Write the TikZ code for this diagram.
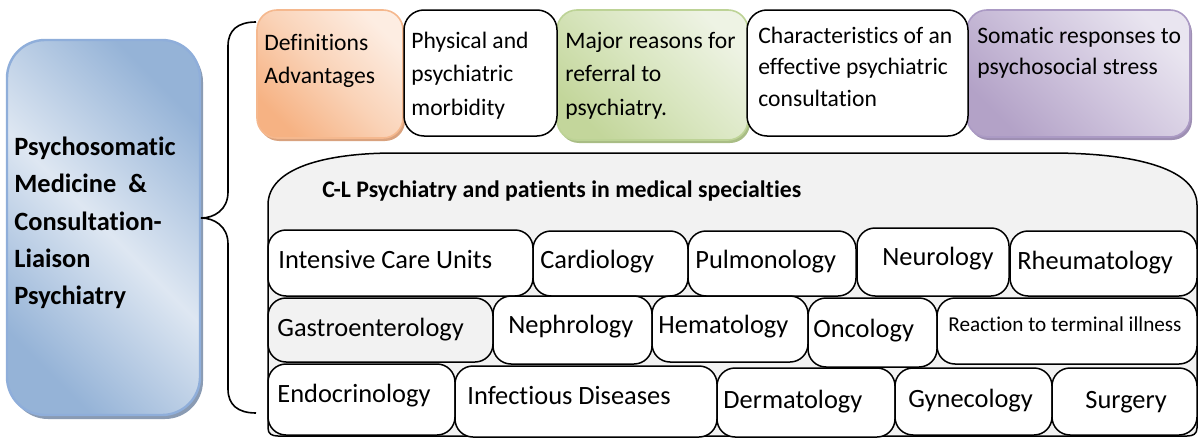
\documentclass[tikz,border=0pt]{standalone}
\usepackage{fontspec}
\setmainfont{Carlito}[Ligatures=NoCommon]
\usetikzlibrary{fit,shadows}
\definecolor{blueD}{HTML}{95B3D7}
\definecolor{blueL}{HTML}{DEE7F2}
\definecolor{blueB}{HTML}{8FAEDA}
\definecolor{blueS}{HTML}{8A9BB3}
\definecolor{orD}{HTML}{F6B283}
\definecolor{orM}{HTML}{FAD3B8}
\definecolor{orL}{HTML}{FDEDE2}
\definecolor{orB}{HTML}{F5B88E}
\definecolor{orS}{HTML}{D9A27E}
\definecolor{grD}{HTML}{C3D69B}
\definecolor{grM}{HTML}{D9E6C0}
\definecolor{grL}{HTML}{EEF3E4}
\definecolor{grB}{HTML}{BDD396}
\definecolor{grS}{HTML}{A9BD85}
\definecolor{puD}{HTML}{B3A2C7}
\definecolor{puM}{HTML}{CFC4DD}
\definecolor{puL}{HTML}{E9E5F0}
\definecolor{puB}{HTML}{AB9AC4}
\definecolor{puS}{HTML}{9E8FB3}
\definecolor{contfill}{HTML}{F2F2F2}
\begin{document}
\begin{tikzpicture}[x=0.5pt,y=-0.5pt,
  box/.style={inner sep=0pt,outer sep=0pt,rounded corners=10pt},
  colbox/.style={box,line width=0.8pt},
  whitebox/.style={box,draw=black,line width=0.75pt,fill=white},
  cellbox/.style={inner sep=0pt,outer sep=0pt,rounded corners=9pt,draw=black,line width=0.75pt,fill=white},
  ttext/.style={inner sep=0pt,anchor=base west,align=left,font=\fontsize{11.8}{16.75}\selectfont},
  ttextb/.style={ttext,font=\fontsize{11.8}{15.75}\selectfont},
  ctext/.style={inner sep=0pt,anchor=base west,font=\fontsize{13.2}{16}\selectfont},
  ltext/.style={inner sep=0pt,anchor=base west,font=\bfseries\fontsize{13.2}{16}\selectfont},
  brace/.style={draw=black,line width=0.8pt}]
\useasboundingbox (0,0) rectangle (1200,439);

% left main box
\node[box,rounded corners=19pt,fit={(7,40) (200,415)},draw=blueB,line width=1.2pt,
  top color=blueD,bottom color=blueD,middle color=blueL,shading angle=-45,
  drop shadow={shadow xshift=1.5pt,shadow yshift=-2pt,fill=blueS,opacity=1}] (main) {};
\node[ltext] (m1) at (14,155) {Psychosomatic};
\node[ltext] (m2) at (14,192) {Medicine \ \&};
\node[ltext] (m3) at (14,230) {Consultation-};
\node[ltext] (m4) at (14,267) {Liaison};
\node[ltext] (m5) at (14,304) {Psychiatry};

% brace
\coordinate (btop) at (256,22);
\coordinate (bbot) at (256,413);
\coordinate (btip) at (201,218);
\draw[brace] (btop) .. controls (238,22) and (228,30) .. (228,46) -- (228,192)
  .. controls (228,210) and (214,218) .. (btip)
  .. controls (214,218) and (228,226) .. (228,244) -- (228,389)
  .. controls (228,405) and (238,413) .. (bbot);

% top row
\node[colbox,fit={(257,10) (403,138)},draw=orB,top color=orL,bottom color=orD,middle color=orM,shading angle=-45,
  drop shadow={shadow xshift=1pt,shadow yshift=-1.5pt,fill=orS,opacity=1}] (t1) {};
\node[colbox,fit={(557,10) (748,140)},draw=grB,top color=grL,bottom color=grD,middle color=grM,shading angle=-45,
  drop shadow={shadow xshift=1pt,shadow yshift=-1.5pt,fill=grS,opacity=1}] (t3) {};
\node[colbox,fit={(967,10) (1190,137)},draw=puB,top color=puL,bottom color=puD,middle color=puM,shading angle=-45,
  drop shadow={shadow xshift=1pt,shadow yshift=-1.5pt,fill=puS,opacity=1}] (t5) {};
\node[whitebox,fit={(404,10) (557,136)}] (t2) {};
\node[whitebox,fit={(747,10) (968,136)}] (t4) {};

% (base anchor of a multi-line node = baseline of its last line)
\node[ttext] (t1a) at (264,83.5) {Definitions\\Advantages};
\node[ttext] (t2a) at (411,115) {Physical and\\psychiatric\\morbidity};
\node[ttext] (t3a) at (565,115) {Major reasons for\\referral to\\psychiatry.};
\node[ttextb] (t4a) at (758,106) {Characteristics of an\\effective psychiatric\\consultation};
\node[ttextb] (t5a) at (977,74.5) {Somatic responses to\\psychosocial stress};

% container
\draw[fill=contfill,draw=black,line width=0.75pt]
  (268,428) -- (268,205) .. controls (268,168) and (325,153) .. (395,153)
  -- (1050,153) .. controls (1140,153) and (1197,170) .. (1197,205)
  -- (1197,428) .. controls (1197,434) and (1193,436) .. (1187,436)
  -- (278,436) .. controls (272,436) and (268,434) .. (268,428) -- cycle;
\node[inner sep=0pt,anchor=base west,font=\bfseries\fontsize{11.9}{14}\selectfont] (title) at (322,197)
  {C-L Psychiatry and patients in medical specialties};

% row 1
\node[cellbox,fit={(268,230) (533,296)}] (icu) {};
\node[cellbox,fit={(533,231) (688,296)}] (card) {};
\node[cellbox,fit={(688,231) (856,296)}] (pulm) {};
\node[cellbox,fit={(857,228) (1009,296)}] (neur) {};
\node[cellbox,fit={(1010,231) (1197,296)}] (rheu) {};
\node[ctext] (icut) at (278,268) {Intensive Care Units};
\node[ctext] (cardt) at (540,268) {Cardiology};
\node[ctext] (pulmt) at (695,268) {Pulmonology};
\node[ctext] (neurt) at (882,265) {Neurology};
\node[ctext] (rheut) at (1017,269) {Rheumatology};

% row 2
\node[cellbox,fit={(268,298) (493,362)},fill=contfill] (gast) {};
\node[cellbox,fit={(493,296) (652,364)}] (neph) {};
\node[cellbox,fit={(652,296) (808,362)}] (hema) {};
\node[cellbox,fit={(808,298) (937,367)}] (onco) {};
\node[cellbox,fit={(937,298) (1197,364)}] (reac) {};
\node[ctext] (gastt) at (277,336) {Gastroenterology};
\node[ctext] (nepht) at (508,333) {Nephrology};
\node[ctext] (hemat) at (658,333) {Hematology};
\node[ctext] (oncot) at (813,337) {Oncology};
\node[inner sep=0pt,anchor=base west,font=\fontsize{10.6}{13}\selectfont] (react) at (948,331) {Reaction to terminal illness};

% row 3
\node[cellbox,fit={(268,364) (455,435)}] (endo) {};
\node[cellbox,fit={(455,366) (717,437)}] (infe) {};
\node[cellbox,fit={(717,368) (895,437)}] (derm) {};
\node[cellbox,fit={(895,368) (1052,435)}] (gyne) {};
\node[cellbox,fit={(1052,368) (1197,435)}] (surg) {};
\node[ctext] (endot) at (277,402) {Endocrinology};
\node[ctext] (infet) at (467,404) {Infectious Diseases};
\node[ctext] (dermt) at (723,408) {Dermatology};
\node[ctext] (gynet) at (908,407) {Gynecology};
\node[ctext] (surgt) at (1085,408) {Surgery};
\end{tikzpicture}
\end{document}
